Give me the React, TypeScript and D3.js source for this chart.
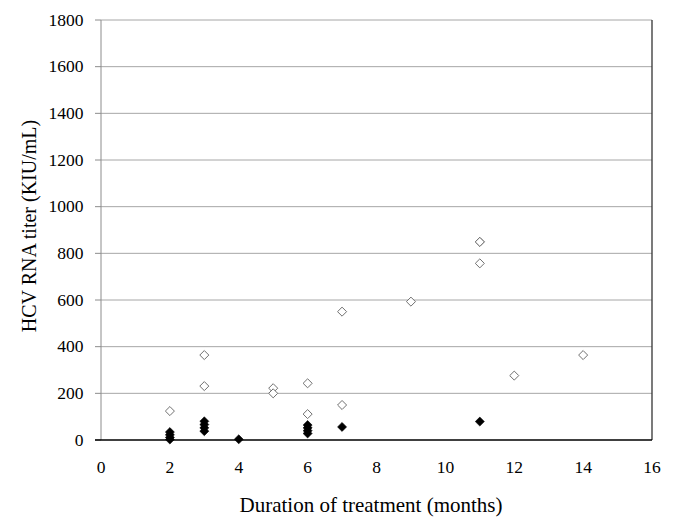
import React from "react";
import * as d3 from "d3";

const xTicks = [0, 2, 4, 6, 8, 10, 12, 14, 16];
const yTicks = [0, 200, 400, 600, 800, 1000, 1200, 1400, 1600, 1800];

// open diamonds
const openX = [2, 3, 3, 5, 5, 6, 6, 7, 7, 9, 11, 11, 11, 12, 14];
const openY = [124, 364, 231, 222, 200, 243, 111, 550, 150, 593, 849, 849, 757, 276, 364];

// filled diamonds
const filledX = [2, 2, 2, 2, 3, 3, 3, 3, 4, 6, 6, 6, 6, 7, 11];
const filledY = [34, 22, 11, 2, 80, 66, 52, 38, 3, 64, 52, 40, 28, 56, 79];

const W = 685;
const H = 525;
const left = 101;
const right = 652;
const top = 20;
const bottom = 440;

export default function App() {
  const x = d3.scaleLinear().domain([0, 16]).range([left, right]);
  const y = d3.scaleLinear().domain([0, 1800]).range([bottom, top]);
  const sym = d3.symbol().type(d3.symbolDiamond2).size(52)();
  const font = "Liberation Serif";
  return (
    <svg width={W} height={H} style={{ position: "absolute", left: 0, top: 0, background: "#fff" }}>
      <rect x={0} y={0} width={W} height={H} fill="#fff" />
      {yTicks.filter((t) => t > 0).map((t) => (
        <line key={"g" + t} x1={left} x2={right} y1={y(t)} y2={y(t)} stroke="#a6a6a6" strokeWidth={1} />
      ))}
      {yTicks.map((t) => (
        <line key={"tk" + t} x1={left - 6} x2={left} y1={y(t)} y2={y(t)} stroke="#8c8c8c" strokeWidth={1} />
      ))}
      <line x1={left} x2={left} y1={top} y2={bottom} stroke="#8c8c8c" strokeWidth={1} />
      <line x1={right} x2={right} y1={top} y2={bottom} stroke="#333" strokeWidth={1.3} />
      <line x1={left - 6} x2={right} y1={bottom} y2={bottom} stroke="#000" strokeWidth={1.3} />
      {yTicks.map((t) => (
        <text key={"yl" + t} x={83.5} y={y(t) + 5.5} textAnchor="end" fontFamily={font} fontSize={17.5} fill="#000">
          {t}
        </text>
      ))}
      {xTicks.map((t) => (
        <text key={"xl" + t} x={x(t)} y={473} textAnchor="middle" fontFamily={font} fontSize={17.5} fill="#000">
          {t}
        </text>
      ))}
      <text x={371} y={512} textAnchor="middle" fontFamily={font} fontSize={21} fill="#000">
        Duration of treatment (months)
      </text>
      <text
        transform={`translate(36,${226}) rotate(-90)`}
        textAnchor="middle"
        fontFamily={font}
        fontSize={20}
        fill="#000"
      >
        HCV RNA titer (KIU/mL)
      </text>
      {openX.map((v, i) => (
        <path
          key={"o" + i}
          d={sym}
          transform={`translate(${x(v)},${y(openY[i])})`}
          fill="#fff"
          stroke="#707070"
          strokeWidth={1}
        />
      ))}
      {filledX.map((v, i) => (
        <path key={"f" + i} d={sym} transform={`translate(${x(v)},${y(filledY[i])})`} fill="#000" stroke="#000" strokeWidth={0.6} />
      ))}
    </svg>
  );
}
